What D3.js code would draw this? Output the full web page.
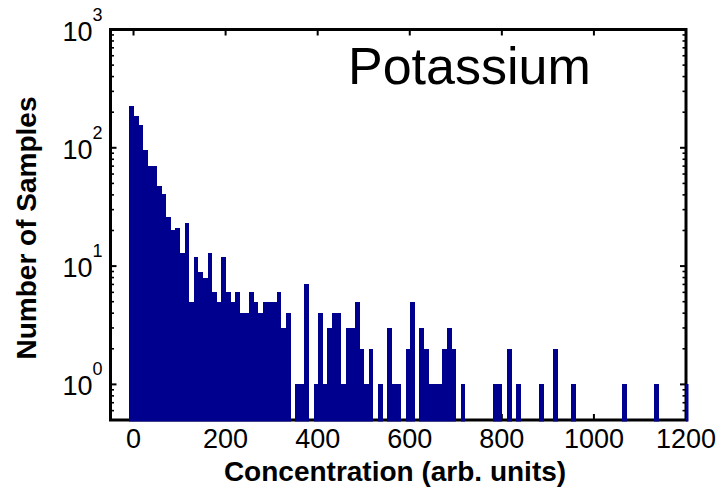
<!DOCTYPE html>
<html>
<head>
<meta charset="utf-8">
<script src="https://cdn.jsdelivr.net/npm/d3@7"></script>
<style>
  body { margin: 0; background: #fff; }
  svg text { font-family: "Liberation Sans", Arial, Helvetica, sans-serif; fill: #000; }
</style>
</head>
<body>
<svg id="chart" width="721" height="491"></svg>
<script>
// Histogram of potassium concentrations: fixed-width bins, counts per bin.
const binStart = -9;       // lower edge of the first bin (arb. units)
const binWidth = 10;       // bin width (arb. units)
const counts = [
  224, 185, 155, 95, 70, 70, 48, 41, 26, 20,
  21, 13, 23, 5, 12, 9, 8, 13, 6, 5,
  12, 6, 5, 6, 4, 4, 6, 5, 4, 5,
  5, 5, 6, 3, 4, 0, 1, 1, 7, 0,
  1, 4, 1, 3, 4, 4, 1, 3, 3, 5,
  2, 1, 2, 0, 1, 0, 3, 1, 1, 0,
  2, 5, 0, 3, 2, 1, 1, 1, 2, 3,
  2, 0, 1, 0, 0, 0, 0, 0, 0, 1,
  1, 0, 2, 0, 1, 0, 0, 0, 0, 1,
  0, 0, 2, 0, 0, 0, 1, 0, 0, 0,
  0, 0, 0, 0, 0, 0, 0, 1, 0, 0,
  0, 0, 0, 0, 1, 0, 0, 0, 0, 0,
  0, 1
];
const xDomain = [-50, 1200];
const yDomain = [0.5, 1000];
const xTickValues = [0, 200, 400, 600, 800, 1000, 1200];
const yDecades = [0, 1, 2, 3];
const titleText = "Potassium";
const xLabelText = "Concentration (arb. units)";
const yLabelText = "Number of Samples";

const svg = d3.select("#chart");
const plot = { left: 110.5, right: 686, top: 29.5, bottom: 420 };

const x = d3.scaleLinear().domain(xDomain).range([plot.left, plot.right]);
const y = d3.scaleLog().domain(yDomain).range([plot.bottom, plot.top]);

const bins = counts.map((c, i) => ({
  lo: binStart + i * binWidth,
  hi: binStart + (i + 1) * binWidth,
  count: c
}));

// ---- axes (drawn underneath the bars) ----
const axes = svg.append("g");
const majorLen = 6, minorLen = 3.5;

// x ticks, bottom and top, pointing inward
const xTicks = axes.append("g").attr("stroke", "#000").attr("stroke-width", 2);
xTickValues.forEach(v => {
  xTicks.append("line").attr("x1", x(v)).attr("x2", x(v))
    .attr("y1", plot.bottom).attr("y2", plot.bottom - majorLen);
  xTicks.append("line").attr("x1", x(v)).attr("x2", x(v))
    .attr("y1", plot.top).attr("y2", plot.top + majorLen);
});

// y ticks (log): majors at decades, minors at 2..9 within the domain
const yMajor = yDecades.map(d => Math.pow(10, d));
const yMinor = [];
for (let d = -1; d <= 2; d++) {
  for (let m = 2; m <= 9; m++) {
    const v = m * Math.pow(10, d);
    if (v >= yDomain[0] && v <= yDomain[1]) yMinor.push(v);
  }
}
const yTicks = axes.append("g").attr("stroke", "#000");
yMajor.forEach(v => {
  yTicks.append("line").attr("stroke-width", 2)
    .attr("x1", plot.left).attr("x2", plot.left + majorLen)
    .attr("y1", y(v)).attr("y2", y(v));
  yTicks.append("line").attr("stroke-width", 2)
    .attr("x1", plot.right).attr("x2", plot.right - majorLen)
    .attr("y1", y(v)).attr("y2", y(v));
});
yMinor.forEach(v => {
  yTicks.append("line").attr("stroke-width", 1.6)
    .attr("x1", plot.left).attr("x2", plot.left + minorLen)
    .attr("y1", y(v)).attr("y2", y(v));
  yTicks.append("line").attr("stroke-width", 1.6)
    .attr("x1", plot.right).attr("x2", plot.right - minorLen)
    .attr("y1", y(v)).attr("y2", y(v));
});

// frame
axes.append("rect")
  .attr("x", plot.left).attr("y", plot.top)
  .attr("width", plot.right - plot.left).attr("height", plot.bottom - plot.top)
  .attr("fill", "none").attr("stroke", "#000").attr("stroke-width", 3);

// ---- bars ----
svg.append("clipPath").attr("id", "plotClip")
  .append("rect")
  .attr("x", plot.left).attr("y", plot.top)
  .attr("width", plot.right - plot.left + 2.5)
  .attr("height", plot.bottom - plot.top + 1.5);

svg.append("g").attr("clip-path", "url(#plotClip)")
  .attr("shape-rendering", "crispEdges")
  .selectAll("rect")
  .data(bins.filter(b => b.count > 0))
  .join("rect")
  .attr("x", b => x(b.lo))
  .attr("width", b => x(b.hi) - x(b.lo))
  .attr("y", b => y(b.count))
  .attr("height", b => plot.bottom + 1.5 - y(b.count))
  .attr("fill", "#00008f");

// ---- tick labels ----
const tickFont = 27;
svg.append("g").selectAll("text")
  .data(xTickValues)
  .join("text")
  .attr("x", d => x(d))
  .attr("y", plot.bottom + 28)
  .attr("text-anchor", "middle")
  .attr("font-size", tickFont)
  .text(d => d);

const yLab = svg.append("g").selectAll("text")
  .data(yDecades)
  .join("text")
  .attr("x", plot.left - 8)
  .attr("y", d => y(Math.pow(10, d)) + 11)
  .attr("text-anchor", "end")
  .attr("font-size", tickFont);
yLab.append("tspan").text("10");
yLab.append("tspan")
  .attr("font-size", 18)
  .attr("dy", -20)
  .text(d => d);

// ---- axis titles and in-plot title ----
svg.append("text")
  .attr("x", 395).attr("y", 481)
  .attr("text-anchor", "middle")
  .attr("font-size", 28).attr("font-weight", "bold")
  .text(xLabelText);

svg.append("text")
  .attr("transform", "translate(36,228) rotate(-90)")
  .attr("text-anchor", "middle")
  .attr("font-size", 28).attr("font-weight", "bold")
  .text(yLabelText);

svg.append("text")
  .attr("x", 348).attr("y", 84)
  .attr("font-size", 52)
  .text(titleText);
</script>
</body>
</html>
